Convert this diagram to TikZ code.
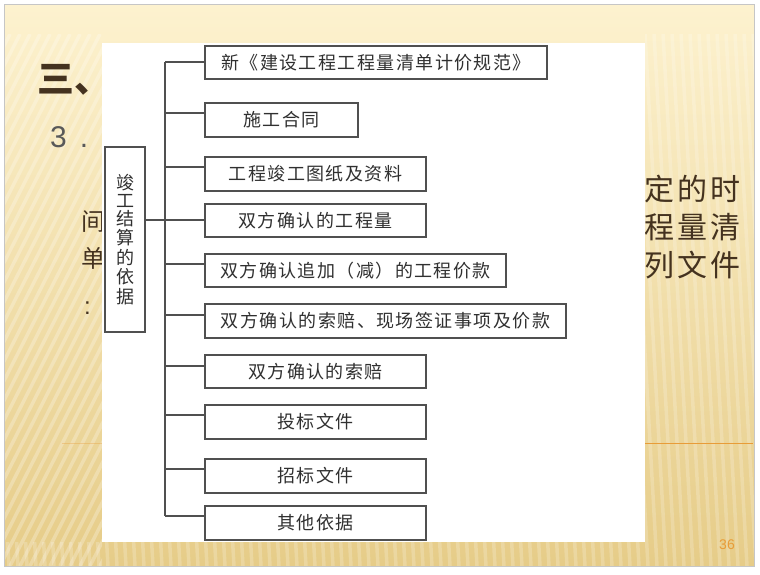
\documentclass[tikz,border=0pt]{standalone}
\usepackage{fontspec}
\setmainfont{Noto Sans CJK SC}
\newfontfamily\cjk{Noto Sans CJK SC}
\newfontfamily\cjkbox[LetterSpace=8]{Noto Sans CJK SC}
\newfontfamily\cjkwide[LetterSpace=10]{Noto Sans CJK SC}
\newfontfamily\lat{Liberation Sans}
\usetikzlibrary{calc}
\definecolor{bgtop}{HTML}{FDF2CF}
\definecolor{bgbot}{HTML}{E6CC88}
\definecolor{brn}{HTML}{44321F}
\definecolor{orng}{HTML}{E89C38}
\definecolor{boxline}{HTML}{505050}
\definecolor{boxtext}{HTML}{303030}
\begin{document}
\begin{tikzpicture}[x=1pt,y=-1pt,
  box/.style={draw=boxline, line width=1.4pt, fill=white, inner sep=0pt, text=boxtext,
    font=\cjkbox\fontsize{18}{20}\selectfont},
  conn/.style={draw=boxline, line width=1.2pt},
  bgtext/.style={text=brn, inner sep=0pt, anchor=west}]
\useasboundingbox (0,0) rectangle (760,574);
\fill[white] (0,0) rectangle (760,574);
\shade[top color=bgtop, bottom color=bgbot] (4,4) rectangle (754,566);
% stripes left (diagonal)
\begin{scope}
\clip (4,34) rectangle (102,566);
\foreach \i in {-300,-290,...,110} \draw[white, opacity=0.25, line width=3.5pt] (\i,566) -- ++(270,-532);
\end{scope}
% stripes right and bottom (near vertical)
\begin{scope}
\clip (645,34) rectangle (754,566) (4,542) rectangle (754,566);
\foreach \i in {0,9,...,790} \draw[white, opacity=0.2, line width=3.5pt] (\i,566) -- ++(-30,-532);
\end{scope}
\draw[gray!45, line width=1pt] (4,4) rectangle (754,566);
% background slide text
\node[bgtext, font=\cjk\bfseries\fontsize{37}{40}\selectfont] (t3) at (37,80) {三、};
\node[bgtext, text=black!65, font=\lat\fontsize{30}{34}\selectfont] (t31) at (50,137) {3\hspace{13pt}.};
\node[bgtext, font=\cjk\fontsize{24}{26}\selectfont] (tj) at (81,222) {间};
\node[bgtext, font=\cjk\fontsize{24}{26}\selectfont] (td) at (81,258) {单};
\node[bgtext, font=\lat\fontsize{24}{26}\selectfont] (tc) at (84,308) {:};
\node[bgtext, font=\cjkwide\fontsize{30}{34}\selectfont] (r1) at (644,189) {定的时};
\node[bgtext, font=\cjkwide\fontsize{30}{34}\selectfont] (r2) at (644,227) {程量清};
\node[bgtext, font=\cjkwide\fontsize{30}{34}\selectfont] (r3) at (644,265) {列文件};
\draw[orng, line width=1pt] (645,443) -- (753,443);
\draw[orng, opacity=0.35, line width=1pt] (62,443) -- (102,443);
\node[text=orng, inner sep=0pt, font=\lat\fontsize{14}{16}\selectfont] (pn) at (727,545) {36};
% white panel
\fill[white] (102,43) rectangle (645,542);
% diagram
\node[box, minimum width=40pt, minimum height=185pt, align=center,
  font=\cjk\fontsize{18}{18.7}\selectfont] (lb) at (125,239.5) {\raisebox{-4pt}{\shortstack{竣\\工\\结\\算\\的\\依\\据}}};
\node[box, minimum width=342pt, minimum height=33pt] (b1) at (376,62.5) {新《建设工程工程量清单计价规范》};
\node[box, minimum width=153pt, minimum height=34pt] (b2) at (281.5,120) {施工合同};
\node[box, minimum width=221pt, minimum height=34pt] (b3) at (315.5,174) {工程竣工图纸及资料};
\node[box, minimum width=221pt, minimum height=33pt] (b4) at (315.5,220.5) {双方确认的工程量};
\node[box, minimum width=301pt, minimum height=33pt] (b5) at (355.5,270.5) {双方确认追加（减）的工程价款};
\node[box, minimum width=361pt, minimum height=34pt] (b6) at (385.5,321) {双方确认的索赔、现场签证事项及价款};
\node[box, minimum width=221pt, minimum height=33pt] (b7) at (315.5,371.5) {双方确认的索赔};
\node[box, minimum width=221pt, minimum height=34pt] (b8) at (315.5,422) {投标文件};
\node[box, minimum width=221pt, minimum height=34pt] (b9) at (315.5,476) {招标文件};
\node[box, minimum width=221pt, minimum height=34pt] (b10) at (315.5,523) {其他依据};
\coordinate (tk) at (165,0);
\foreach \n/\off in {1/0.5,2/7,3/7,4/0.5,5/6.5,6/6,7/5.5,8/7,9/7,10/7}{
  \coordinate (j\n) at ([yshift=\off pt]b\n.west);
  \draw[conn] (j\n) -- (j\n -| tk);
}
\draw[conn] (j1 -| tk) -- (j10 -| tk);
\coordinate (jl) at ([yshift=19.5pt]lb.east);
\draw[conn] (jl) -- (jl -| tk);
\end{tikzpicture}
\end{document}
